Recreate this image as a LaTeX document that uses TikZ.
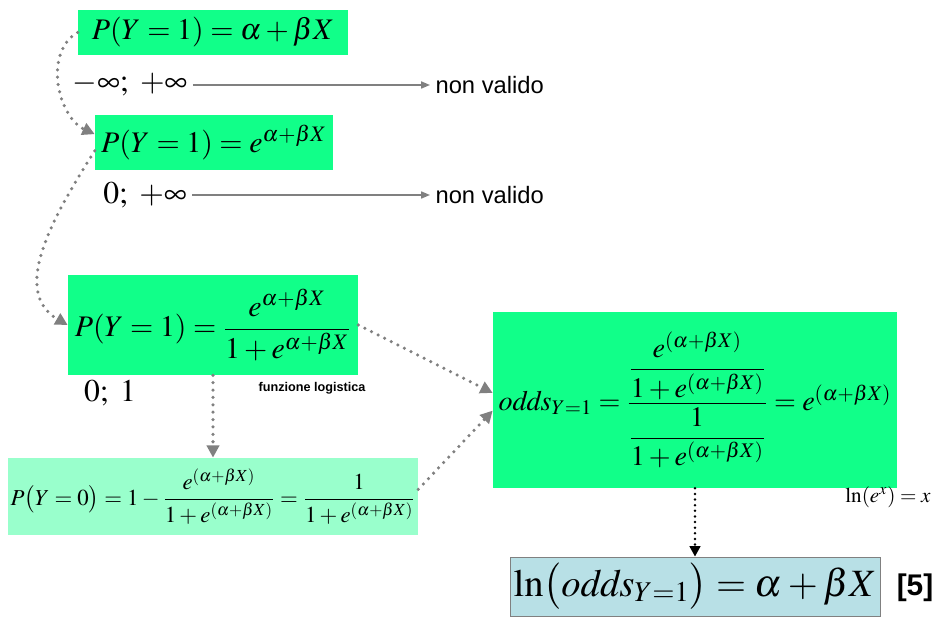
\documentclass[tikz,border=0pt]{standalone}
\usepackage{amsmath}
\usepackage{mathptmx}
\usepackage[no-math]{fontspec}
\setmainfont{Liberation Serif}
\setsansfont{Liberation Sans}
\usetikzlibrary{arrows.meta,positioning}
\definecolor{eqgreen}{RGB}{17,255,137}
\definecolor{eqmint}{RGB}{153,255,204}
\definecolor{eqblue}{RGB}{184,224,230}
\definecolor{linkgray}{RGB}{128,128,128}

\begin{document}
\begin{tikzpicture}[
    x=0.02cm, y=-0.02cm,
    eqbox/.style={rectangle, fill=eqgreen, inner sep=0pt, font=\fontsize{17}{21}\selectfont},
    rangetxt/.style={inner sep=3pt, font=\fontsize{18}{22}\selectfont},
    notetxt/.style={anchor=west, inner sep=3pt, font=\sffamily\fontsize{13.5}{16}\selectfont},
    graylink/.style={draw=linkgray, line width=0.8pt, -{Triangle[length=5pt,width=4pt]}},
    dotlink/.style={draw=linkgray, line width=2pt, dash pattern=on 0pt off 4.2pt, line cap=round, -{Triangle[length=7pt,width=7pt]}},
    blacklink/.style={draw=black, line width=1.6pt, dash pattern=on 0pt off 3.2pt, line cap=round, -{Triangle[length=6pt,width=6pt]}}
]
\useasboundingbox (0,0) rectangle (938,617);

% Linear model
\node[eqbox, minimum width=5.4cm, minimum height=0.9cm] (lin) at (213,32.5) {$P(Y=1)=\alpha+\beta X$};
\node[rangetxt] (rlin) at (130,85) {$-\infty;\ +\infty$};
\node[notetxt] (nvlin) at (430,85) {non valido};

% Exponential model
\node[eqbox, minimum width=4.76cm, minimum height=1.1cm] (expo) at (214,142.5) {$P(Y=1)=e^{\alpha+\beta X}$};
\node[rangetxt] (rexpo) at (145,195) {$0;\ +\infty$};
\node[notetxt] (nvexpo) at (430,195) {non valido};

% Logistic model
\node[eqbox, minimum width=5.8cm, minimum height=2cm] (logi) at (213,325) {$P(Y=1)=\dfrac{e^{\alpha+\beta X}}{1+e^{\alpha+\beta X}}$};
\node[rangetxt] (rlogi) at (110,393) {$0;\ 1$};
\node[font=\sffamily\bfseries\fontsize{7.2}{8}\selectfont] (flog) at (312,388) {funzione logistica};

% Complement
\node[eqbox, fill=eqmint, minimum width=8.2cm, minimum height=1.54cm, font=\fontsize{13}{16}\selectfont] (comp) at (213,496.5)
  {$P\bigl(Y=0\bigr)=1-\dfrac{e^{(\alpha+\beta X)}}{1+e^{(\alpha+\beta X)}}=\dfrac{1}{1+e^{(\alpha+\beta X)}}$};

% Odds
\node[eqbox, minimum width=8.08cm, minimum height=3.52cm, font=\fontsize{16}{20}\selectfont] (odds) at (695,400)
  {$\mathit{odds}_{Y=1}=\dfrac{\dfrac{e^{(\alpha+\beta X)}}{1+e^{(\alpha+\beta X)}}}{\dfrac{1}{1+e^{(\alpha+\beta X)}}}=e^{(\alpha+\beta X)}$};
\node[rangetxt, font=\fontsize{12}{14}\selectfont] (lnrule) at (888,497) {$\ln(e^{x})=x$};

% Logit
\node[rectangle, draw=linkgray, fill=eqblue, inner sep=0pt, minimum width=7.4cm, minimum height=1.18cm, font=\fontsize{22}{26}\selectfont] (logit) at (695,586.5)
  {$\ln\bigl(\mathit{odds}_{Y=1}\bigr)=\alpha+\beta X$};
\node[font=\sffamily\bfseries\fontsize{17}{20}\selectfont] (tag) at (915,588) {[5]};

% Arrows
\draw[graylink] (rlin) -- (nvlin);
\draw[graylink] (rexpo) -- (nvexpo);
\draw[dotlink] (lin.west) to[out=210,in=155] (expo.176);
\draw[dotlink] (expo.184) to[out=238,in=150] (logi.west);
\draw[dotlink] (logi.south) -- (comp.north);
\draw[dotlink] (logi.east) -- (odds.178);
\draw[dotlink] (comp.2) -- (odds.183);
\draw[blacklink] (odds.south) -- (logit.north);

\end{tikzpicture}
\end{document}
